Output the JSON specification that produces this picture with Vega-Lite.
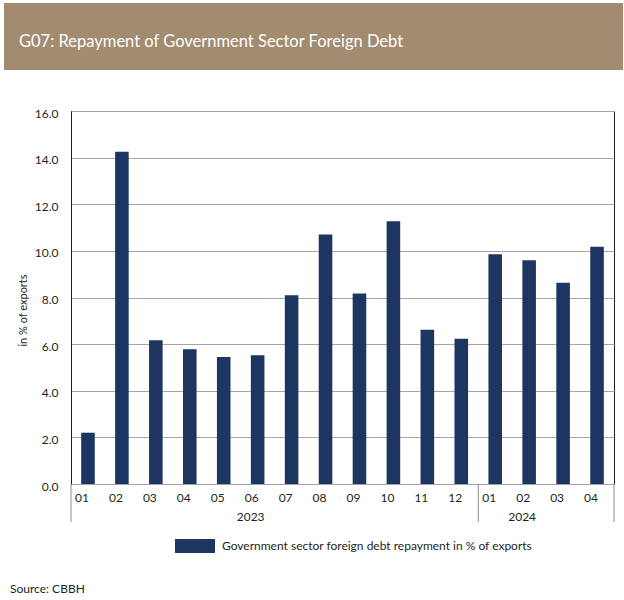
{
  "$schema": "https://vega.github.io/schema/vega-lite/v6.json",
  "padding": {"left": 3, "top": 3, "right": 0, "bottom": 0},
  "background": "white",
  "spacing": 36,
  "columns": 1,
  "config": {
    "font": "Lato",
    "view": {"stroke": null},
    "axis": {"labelFont": "Lato", "titleFont": "Lato", "labelColor": "#231f20", "titleColor": "#231f20", "labelFontSize": 12, "titleFontSize": 11, "titleFontWeight": "normal"},
    "title": {"font": "Lato", "fontWeight": "normal"}
  },
  "concat": [
    {
      "width": 552,
      "height": 67,
      "title": {"text": "G07: Repayment of Government Sector Foreign Debt", "orient": "bottom", "anchor": "start", "frame": "group", "offset": -23, "baseline": "alphabetic", "dx": -52, "color": "white", "fontSize": 16.5},
      "data": {"values": [{"band": "title"}]},
      "mark": {"type": "rect", "color": "#a38b70"},
      "encoding": {
        "x": {"datum": 0, "type": "quantitative", "scale": {"domain": [0, 1], "range": [-67, 552]}, "axis": null},
        "x2": {"datum": 1},
        "y": {"datum": 0, "type": "quantitative", "scale": {"domain": [0, 1], "range": [0, 67]}, "axis": null},
        "y2": {"datum": 1}
      }
    },
    {
      "width": 543,
      "height": 373,
      "data": {"values": [
        {"period": "2023-01", "year": "2023", "month": "01", "value": 2.2},
        {"period": "2023-02", "year": "2023", "month": "02", "value": 14.25},
        {"period": "2023-03", "year": "2023", "month": "03", "value": 6.17},
        {"period": "2023-04", "year": "2023", "month": "04", "value": 5.78},
        {"period": "2023-05", "year": "2023", "month": "05", "value": 5.45},
        {"period": "2023-06", "year": "2023", "month": "06", "value": 5.52},
        {"period": "2023-07", "year": "2023", "month": "07", "value": 8.1},
        {"period": "2023-08", "year": "2023", "month": "08", "value": 10.7},
        {"period": "2023-09", "year": "2023", "month": "09", "value": 8.17},
        {"period": "2023-10", "year": "2023", "month": "10", "value": 11.27},
        {"period": "2023-11", "year": "2023", "month": "11", "value": 6.62},
        {"period": "2023-12", "year": "2023", "month": "12", "value": 6.23},
        {"period": "2024-01", "year": "2024", "month": "01", "value": 9.86},
        {"period": "2024-02", "year": "2024", "month": "02", "value": 9.6},
        {"period": "2024-03", "year": "2024", "month": "03", "value": 8.63},
        {"period": "2024-04", "year": "2024", "month": "04", "value": 10.18}
      ]},
      "title": {"text": "Source: CBBH", "orient": "bottom", "anchor": "start", "frame": "bounds", "offset": 62, "dx": 6, "fontSize": 12, "color": "#231f20", "baseline": "top"},
      "view": {"stroke": "#231f20", "strokeWidth": 1},
      "resolve": {"axis": {"x": "independent", "y": "independent"}},
      "layer": [
        {
          "mark": {"type": "bar", "width": {"band": 0.4}},
          "encoding": {
            "x": {"field": "period", "type": "ordinal", "sort": null, "scale": {"paddingInner": 0, "paddingOuter": 0},
              "axis": {"orient": "bottom", "title": null, "ticks": false, "domain": false, "grid": false, "labelAngle": 0, "labelPadding": 8, "labelOffset": -6, "labelExpr": "substring(datum.value, 5, 7)"}},
            "y": {"field": "value", "type": "quantitative", "scale": {"domain": [0, 16], "nice": false},
              "axis": {"orient": "left", "values": [0, 2, 4, 6, 8, 10, 12, 14, 16], "format": ".1f", "grid": true, "gridColor": "#a6a6a6", "gridWidth": 1, "domain": true, "domainColor": "#231f20", "ticks": false, "labelPadding": 13, "labelOffset": 2,
                "title": "in % of exports", "titleX": -48, "titleY": 199, "titleAngle": 270, "titleAlign": "center", "titleBaseline": "middle"}},
            "color": {"datum": "Government sector foreign debt repayment in % of exports", "type": "nominal", "scale": {"range": ["#1d3661"]},
              "legend": {"orient": "none", "legendX": 104, "legendY": 523, "title": null, "symbolType": "M-1,-0.35H1V0.35H-1Z", "symbolSize": 1600, "symbolStrokeWidth": 0, "symbolOpacity": 1, "labelFontSize": 12, "labelColor": "#231f20", "labelOffset": 7, "padding": 0, "labelLimit": 0}}
          }
        },
        {
          "transform": [{"filter": "datum.month == '01'"}],
          "mark": {"type": "rule", "color": "#8c8c8c", "strokeWidth": 1},
          "encoding": {
            "x": {"field": "period", "type": "ordinal", "bandPosition": 0,
              "axis": {"orient": "bottom", "offset": 19, "values": ["2023-06", "2024-02"], "bandPosition": 1, "labelExpr": "substring(datum.value, 0, 4)", "ticks": false, "domain": false, "grid": false, "title": null, "labelAngle": 0, "labelPadding": 8, "labelOffset": -7}},
            "y": {"datum": 0, "type": "quantitative",
              "axis": {"orient": "left", "offset": 67, "domain": true, "domainColor": "white", "labels": false, "ticks": false, "grid": false, "title": null}},
            "y2": {"datum": -1.63}
          }
        },
        {
          "transform": [{"filter": "datum.period == '2024-04'"}],
          "mark": {"type": "rule", "color": "#8c8c8c", "strokeWidth": 1},
          "encoding": {
            "x": {"field": "period", "type": "ordinal", "bandPosition": 1, "axis": null},
            "y": {"datum": 0, "type": "quantitative", "axis": null},
            "y2": {"datum": -1.63}
          }
        }
      ]
    }
  ]
}
